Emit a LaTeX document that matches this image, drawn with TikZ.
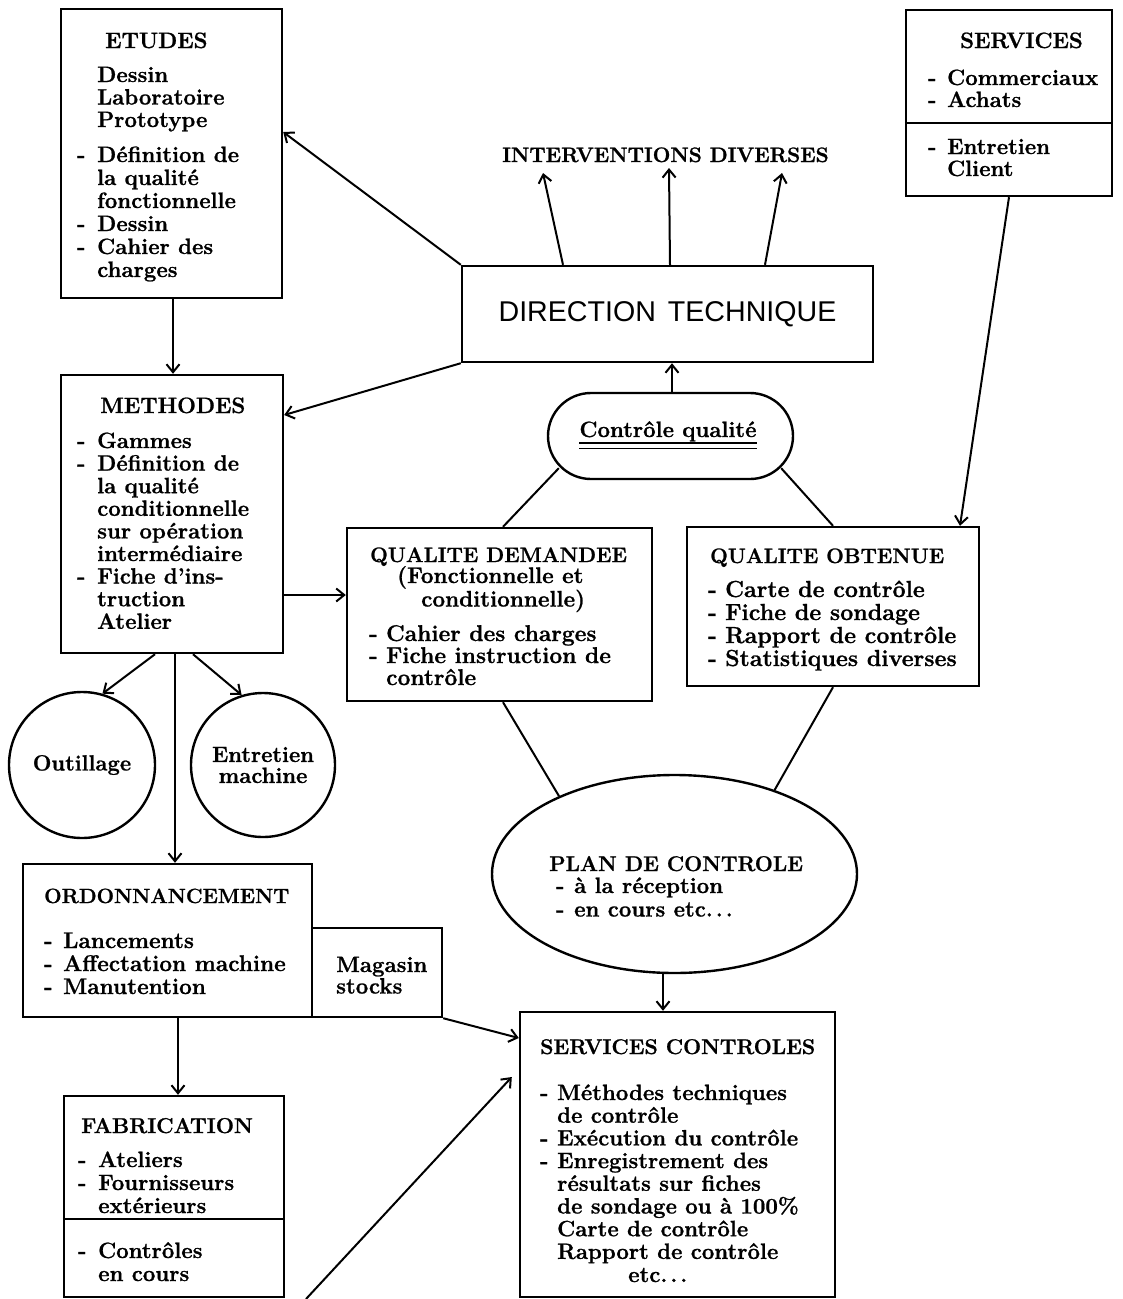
\documentclass[tikz,border=0pt]{standalone}
\usepackage{fontspec}
\setmainfont{Latin Modern Roman}[BoldFeatures={FakeBold=1}]
\newfontfamily\dirfont{Liberation Sans}
\usetikzlibrary{arrows.meta,shapes.geometric,calc}
\newlength\dw
\setlength\dw{19pt}
\newcommand\dsh{\makebox[\dw][l]{-}}
\newcommand\ind{\hspace*{\dw}}
\newcommand\blk[3]{\parbox[t]{420pt}{\raggedright\setlength\dw{#1pt}\setlength\baselineskip{#2pt}#3}}
\newcommand\fs[1]{\fontsize{#1}{22.8}\selectfont\bfseries}
\newcommand\etcdots{etc.\hspace{3pt}.\hspace{3pt}.}
\tikzset{
  box/.style={draw, line width=2.4pt, rectangle, inner sep=0pt},
  rnd/.style={draw, line width=2.4pt, inner sep=0pt},
  txt/.style={inner sep=0pt, anchor=base west, font=\fs{22.2}},
  arr/.style={line width=2pt, -{Straight Barb[length=8pt,width=13pt]}},
  ln/.style={line width=2pt},
}
\begin{document}
\begin{tikzpicture}[x=1pt,y=-1pt]
\fill[white] (0,0) rectangle (1123,1299);
\useasboundingbox (0,0) rectangle (1123,1299);

% ---------- boxes ----------
\node[box, minimum width=221, minimum height=289] (etudes) at (171.5,153.5) {};
\node[box, minimum width=222, minimum height=278] (methodes) at (172,514) {};
\node[box, minimum width=411, minimum height=96, font=\dirfont\fontsize{28.6}{30}\selectfont] (direction) at (667.5,314) {DIRECTION\hspace{12pt}TECHNIQUE};
\node[rnd, rounded corners=43, minimum width=245, minimum height=86] (pill) at (670.5,436) {};
\node[box, minimum width=206, minimum height=186] (services) at (1009,103) {};
\node[box, minimum width=305, minimum height=173] (qd) at (499.5,614.5) {};
\node[box, minimum width=292, minimum height=159] (qo) at (833,606.5) {};
\node[rnd, circle, minimum size=146, font=\fontsize{22}{21}\selectfont\bfseries] (outil) at (82,765) {Outillage};
\node[rnd, circle, minimum size=144, align=center, font=\fontsize{22}{21}\selectfont\bfseries] (entret) at (263,765) {Entretien\\machine};
\node[rnd, ellipse, minimum width=365, minimum height=198] (plan) at (674.5,874) {};
\node[box, minimum width=289, minimum height=153] (ordo) at (167.5,940.5) {};
\node[box, minimum width=130, minimum height=89] (magasin) at (377,972.5) {};
\node[box, minimum width=220, minimum height=201] (fab) at (174,1196.5) {};
\node[box, minimum width=315, minimum height=285] (sc) at (677.5,1154.5) {};

% dividers
\draw[line width=2.4pt] (services.west |- 0,123) -- (services.east |- 0,123);
\draw[line width=2.4pt] (fab.west |- 0,1219) -- (fab.east |- 0,1219);

% ---------- texts ----------
\node[txt] (etT) at (105,48) {ETUDES};
\node[txt] (etA) at (97,82) {\blk{20}{22.5}{Dessin\\Laboratoire\\Prototype}};
\node[txt] (etB) at (77,162) {\blk{20}{23}{\dsh Définition de\\\ind la qualité\\\ind fonctionnelle\\\dsh Dessin\\\dsh Cahier des\\\ind charges}};

\node[txt] (meT) at (100,413) {METHODES};
\node[txt] (meB) at (77,448) {\blk{20}{22.6}{\dsh Gammes\\\dsh Définition de\\\ind la qualité\\\ind conditionnelle\\\ind sur opération\\\ind intermédiaire\\\dsh Fiche d'ins-\\\ind truction\\\ind Atelier}};

\node[txt, font=\fs{20.9}] (interv) at (502,162) {INTERVENTIONS DIVERSES};

\node[txt, anchor=base] (cq) at (668,437) {Contrôle qualité};
\draw[line width=2pt] ([yshift=-6pt]cq.base west) -- ([yshift=-6pt]cq.base east);
\draw[line width=1.6pt] ([yshift=-11.5pt]cq.base west) -- ([yshift=-11.5pt]cq.base east);

\node[txt] (seT) at (960,48) {SERVICES};
\node[txt] (seB) at (928,85) {\blk{19}{22}{\dsh Commerciaux\\\dsh Achats}};
\node[txt] (seC) at (928,154) {\blk{19}{22}{\dsh Entretien\\\ind Client}};

\node[txt, font=\fs{20.9}] (qdT) at (370,562) {QUALITE DEMANDEE};
\node[txt, font=\fs{22.5}] (qdA) at (397,583) {\blk{24}{22}{(Fonctionnelle et\\\ind conditionnelle)}};
\node[txt, font=\fs{22.8}] (qdB) at (369,641) {\blk{17}{22}{\dsh Cahier des charges\\\dsh Fiche instruction de\\\ind contrôle}};

\node[txt, font=\fs{20.9}] (qoT) at (710,563) {QUALITE OBTENUE};
\node[txt, font=\fs{23.2}] (qoB) at (708,597) {\blk{17}{23}{\dsh Carte de contrôle\\\dsh Fiche de sondage\\\dsh Rapport de contrôle\\\dsh Statistiques diverses}};

\node[txt, font=\fs{21.3}] (plT) at (549,871) {PLAN DE CONTROLE};
\node[txt] (plB) at (556,893) {\blk{18}{23.5}{\dsh à la réception\\\dsh en cours \etcdots}};

\node[txt, font=\fs{20.6}] (orT) at (44,903) {ORDONNANCEMENT};
\node[txt, font=\fs{22.6}] (orB) at (44,948) {\blk{19}{23}{\dsh Lancements\\\dsh Affectation machine\\\dsh Manutention}};
\node[txt] (maT) at (336,972) {\blk{19}{21.5}{Magasin\\stocks}};

\node[txt, font=\fs{21.5}] (faT) at (81,1133) {FABRICATION};
\node[txt] (faB) at (78,1167) {\blk{20}{23}{\dsh Ateliers\\\dsh Fournisseurs\\\ind extérieurs}};
\node[txt] (faC) at (78,1258) {\blk{20}{23}{\dsh Contrôles\\\ind en cours}};

\node[txt, font=\fs{21.3}] (scT) at (540,1054) {SERVICES CONTROLES};
\node[txt] (scB) at (540,1100) {\blk{17}{22.7}{\dsh Méthodes techniques\\\ind de contrôle\\\dsh Exécution du contrôle\\\dsh Enregistrement des\\\ind résultats sur fiches\\\ind de sondage ou à 100\%\\\ind Carte de contrôle\\\ind Rapport de contrôle}};
\node[txt] (scE) at (628,1282) {\etcdots};

% ---------- connectors ----------
\coordinate (i1) at (543,173);
\coordinate (i2) at (669,168);
\coordinate (i3) at (782,173);
\draw[arr] (direction.north -| 563,0) -- (i1);
\draw[arr] (direction.north -| 670,0) -- (i2);
\draw[arr] (direction.north -| 765,0) -- (i3);

\draw[arr] (direction.north west) -- (etudes.east |- 0,132);
\draw[arr] (direction.south west) -- (methodes.east |- 0,415);
\draw[arr] (pill.north -| 672,0) -- (direction.south -| 672,0);
\draw[ln] ([shift={(12,-12)}]pill.south west) -- (qd.north -| 503,0);
\draw[ln] ([shift={(-13,-12)}]pill.south east) -- (qo.north -| 833,0);
\draw[arr] (services.south) -- (qo.north -| 960,0);

\draw[arr] (etudes.south -| 173,0) -- (methodes.north -| 173,0);
\draw[arr] (methodes.east |- 0,595) -- (qd.west |- 0,595);
\draw[arr] (methodes.south -| 155,0) -- (outil.74);
\draw[arr] (methodes.south -| 193,0) -- (entret.107);
\draw[arr] (methodes.south -| 175,0) -- (ordo.north -| 175,0);
\draw[arr] (ordo.south -| 178,0) -- (fab.north -| 178,0);
\draw[arr] (magasin.south east) -- (sc.west |- 0,1038);
\coordinate (fabout) at (306,1299);
\draw[arr] (fabout) -- ($(sc.west |- 0,1077)+(-7,0)$);
\draw[arr] (plan.south -| 663,0) -- (sc.north -| 663,0);
\draw[ln] (qd.south -| 503,0) -- (plan.146.5);
\draw[ln] (qo.south -| 833,0) -- (plan.40.5);
\end{tikzpicture}
\end{document}
